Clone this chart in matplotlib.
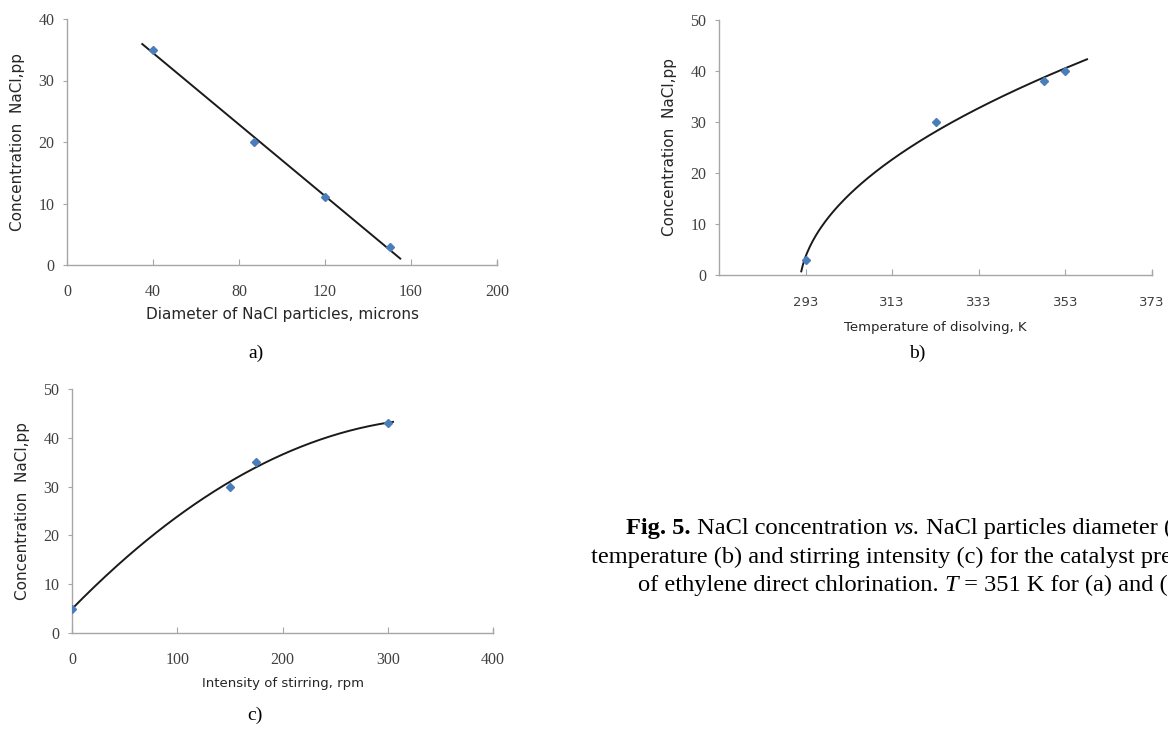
import matplotlib
matplotlib.use('Agg')
import matplotlib.pyplot as plt
import numpy as np

# --- data ---
diam_um   = [40, 87, 120, 150]
conc_diam = [35, 20, 11, 3]

temp_K    = [293, 323, 348, 353]
conc_temp = [3, 30, 38, 40]

stir_rpm  = [0, 150, 175, 300]
conc_stir = [5, 30, 35, 43]

SERIF = 'Liberation Serif'
SANS = 'DejaVu Sans'
AX_COL = '#a6a6a6'
TXT_COL = '#404040'
PT_COL = '#4a7ebb'
W, H = 1168, 732

fig = plt.figure(figsize=(W / 100, H / 100), dpi=100)


def style_axes(ax, xticks, yticks, xtick_font=SERIF, xtick_size=11.5, xpad=14):
    for s in ('top', 'right'):
        ax.spines[s].set_visible(False)
    for s in ('left', 'bottom'):
        ax.spines[s].set_color(AX_COL)
        ax.spines[s].set_linewidth(1.0)
    ax.set_xticks(xticks)
    ax.set_yticks(yticks)
    ax.tick_params(axis='x', direction='in', length=4, color=AX_COL, pad=xpad)
    ax.tick_params(axis='y', direction='out', length=3, color=AX_COL, pad=6)
    for lab in ax.get_yticklabels():
        lab.set_fontfamily(SERIF)
        lab.set_fontsize(11.5)
        lab.set_color(TXT_COL)
    for lab in ax.get_xticklabels():
        lab.set_fontfamily(xtick_font)
        lab.set_fontsize(xtick_size)
        lab.set_color(TXT_COL)
    ax.plot([1, 1], [0, 0.015], transform=ax.transAxes, color=AX_COL, lw=1.0, clip_on=False)


# --- a) ---
ax_a = fig.add_axes([67 / W, 1 - 265 / H, 430 / W, 246 / H])
k, b = np.polyfit(diam_um, conc_diam, 1)
xa = np.linspace(35, 155, 50)
ax_a.plot(xa, k * xa + b, color='#1a1a1a', lw=1.4, zorder=2)
ax_a.plot(diam_um, conc_diam, 'D', color=PT_COL, ms=4.5, zorder=3)
ax_a.set_xlim(0, 200)
ax_a.set_ylim(0, 40)
style_axes(ax_a, [0, 40, 80, 120, 160, 200], [0, 10, 20, 30, 40])
ax_a.set_xlabel('Diameter of NaCl particles, microns', fontfamily=SANS, fontsize=11, color='#262626', labelpad=5)
ax_a.set_ylabel('Concentration  NaCl,pp', fontfamily=SANS, fontsize=11, color='#262626', labelpad=10)

# --- b) ---
ax_b = fig.add_axes([719 / W, 1 - 275 / H, 433 / W, 255 / H])
T0 = 291.5
p = np.polyfit(np.sqrt(np.array(temp_K) - T0), conc_temp, 1)
tb = np.linspace(292.0, 358, 200)
ax_b.plot(tb, np.polyval(p, np.sqrt(tb - T0)), color='#1a1a1a', lw=1.4, zorder=2)
ax_b.plot(temp_K, conc_temp, 'D', color=PT_COL, ms=4.5, zorder=3)
ax_b.set_xlim(273, 373)
ax_b.set_ylim(0, 50)
style_axes(ax_b, [293, 313, 333, 353, 373], [0, 10, 20, 30, 40, 50], xtick_font=SANS, xtick_size=9.5, xpad=15)
ax_b.set_xlabel('Temperature of disolving, K', fontfamily=SANS, fontsize=9.5, color='#262626', labelpad=9)
ax_b.set_ylabel('Concentration  NaCl,pp', fontfamily=SANS, fontsize=11, color='#262626', labelpad=10)

# --- c) ---
ax_c = fig.add_axes([72 / W, 1 - 633 / H, 421 / W, 244 / H])
q = np.polyfit(stir_rpm, conc_stir, 2)
xc = np.linspace(0, 305, 200)
ax_c.plot(xc, np.polyval(q, xc), color='#1a1a1a', lw=1.4, zorder=2)
ax_c.plot(stir_rpm, conc_stir, 'D', color=PT_COL, ms=4.5, zorder=3)
ax_c.set_xlim(0, 400)
ax_c.set_ylim(0, 50)
style_axes(ax_c, [0, 100, 200, 300, 400], [0, 10, 20, 30, 40, 50])
ax_c.set_xlabel('Intensity of stirring, rpm', fontfamily=SANS, fontsize=9.5, color='#262626', labelpad=6)
ax_c.set_ylabel('Concentration  NaCl,pp', fontfamily=SANS, fontsize=11, color='#262626', labelpad=10)

# --- panel letters ---
for x, y, s in [(256, 353, 'a)'), (917, 353, 'b)'), (255, 715, 'c)')]:
    fig.text(x / W, 1 - y / H, s, fontfamily=SERIF, fontsize=14, ha='center', va='center')

# --- caption (runs off the right edge like in the source) ---
CAP_SIZE = 17.6
renderer = fig.canvas.get_renderer()


def caption_line(x, y, parts):
    for txt, weight, style in parts:
        t = fig.text(x / W, 1 - y / H, txt, fontfamily=SERIF, fontsize=CAP_SIZE,
                     fontweight=weight, fontstyle=style, va='baseline', ha='left')
        x += t.get_window_extent(renderer).width


caption_line(626, 534, [('Fig. 5.', 'bold', 'normal'), (' NaCl concentration ', 'normal', 'normal'),
                        ('vs.', 'normal', 'italic'), (' NaCl particles diameter (a),', 'normal', 'normal')])
caption_line(591, 563, [('temperature (b) and stirring intensity (c) for the catalyst preparation', 'normal', 'normal')])
caption_line(638, 591, [('of ethylene direct chlorination. ', 'normal', 'normal'), ('T', 'normal', 'italic'),
                        (' = 351 K for (a) and (c).', 'normal', 'normal')])

fig.savefig('out.png', dpi=100)
